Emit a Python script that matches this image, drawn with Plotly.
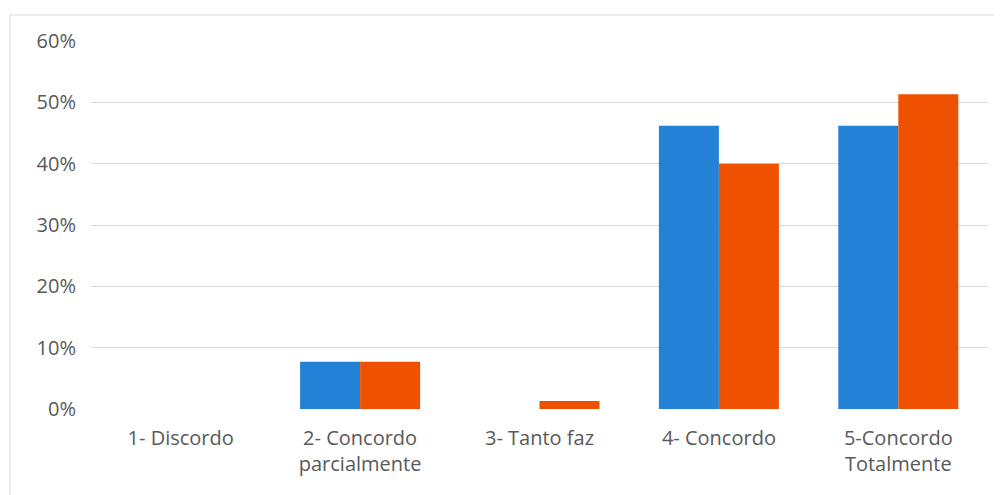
import plotly.graph_objects as go

categories = ["1- Discordo", "2- Concordo<br>parcialmente", "3- Tanto faz", "4- Concordo", "5-Concordo<br>Totalmente"]
series_a = [0.0, 0.077, 0.0, 0.462, 0.462]
series_b = [0.0, 0.077, 0.013, 0.40, 0.513]
y_ticks = [0, 0.1, 0.2, 0.3, 0.4, 0.5, 0.6]
y_tick_labels = ["0%", "10%", "20%", "30%", "40%", "50%", "60%"]

BLUE = "#2381D6"
ORANGE = "#EE5200"
TEXT = "#595959"
FONT = "Open Sans"
FS = 20

OFF = 8  # page body margin
W, H = 1002 - OFF, 495 - OFF
L, R, T, B = 91 - OFF, 14, 41 - OFF, 86
pw, ph = W - L - R, H - T - B

def px_x(p):
    return (p - OFF - L) / pw

def px_y(p):
    return (H - B - (p - OFF)) / ph

fig = go.Figure()
fig.add_trace(go.Bar(x=categories, y=series_a, marker=dict(color=BLUE, line=dict(width=0)), name="A"))
fig.add_trace(go.Bar(x=categories, y=series_b, marker=dict(color=ORANGE, line=dict(width=0)), name="B"))

fig.update_layout(
    width=W, height=H,
    margin=dict(l=L, r=R, t=T, b=B, pad=0),
    paper_bgcolor="white", plot_bgcolor="white",
    barmode="group", bargap=0.331, bargroupgap=0,
    showlegend=False,
    font=dict(family=FONT, size=FS, color=TEXT),
    xaxis=dict(showgrid=False, showline=False, zeroline=False, ticks="",
               ticklabelstandoff=15,
               tickfont=dict(family=FONT, size=FS, color=TEXT)),
    yaxis=dict(range=[0, 0.6], tickvals=y_ticks, ticktext=y_tick_labels,
               showgrid=True, gridcolor="#D9D9D9", gridwidth=1.3,
               zeroline=False, showline=False, ticks="",
               ticklabelstandoff=14,
               tickfont=dict(family=FONT, size=FS, color=TEXT)),
    shapes=[dict(type="rect", xref="paper", yref="paper",
                 x0=px_x(10), x1=px_x(1012), y0=px_y(515), y1=px_y(15),
                 line=dict(color="#E6E6E6", width=1.5), fillcolor="rgba(0,0,0,0)", layer="below")],
)

fig.write_html("out.html")
